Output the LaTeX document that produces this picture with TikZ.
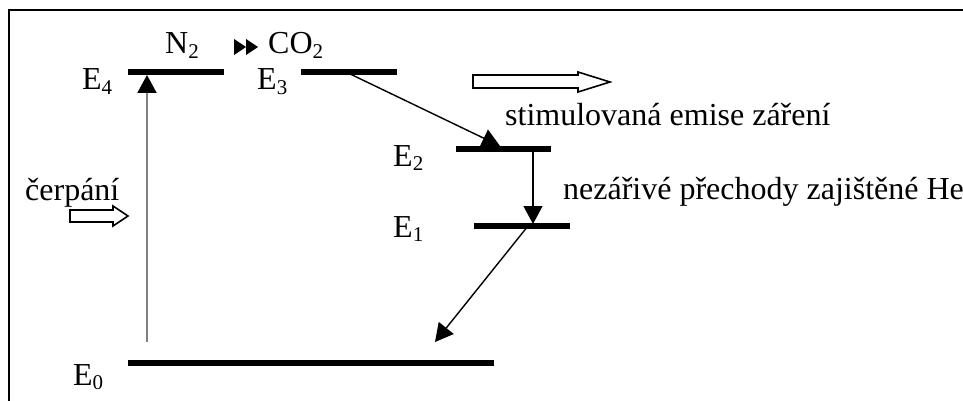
\documentclass[tikz,border=0pt]{standalone}
\usepackage{fontspec}
\setmainfont{Liberation Serif}
\usetikzlibrary{arrows.meta}
% subscript index of an energy level
\newcommand\lvlsub[1]{\raisebox{-0.3ex}{\fontsize{21}{21}\selectfont #1}}

\begin{document}
\begin{tikzpicture}[x=1pt,y=-1pt,
  level/.style={line width=5.5pt},
  trans/.style={line width=1.4pt,-{Triangle[length=18pt,width=19pt]}},
  pump/.style={draw=black!50, line width=2pt,
    -{Triangle[length=18pt,width=19pt,color=black]}},
  lbl/.style={anchor=base west, inner sep=0, font=\fontsize{32}{38}\selectfont},
  hollow/.style={draw=black, line width=1.6pt, fill=white, line join=miter}]
\useasboundingbox (0,0) rectangle (963,401);

% frame
\draw[line width=2.5pt] (9,401) -- (9,10) -- (963,10);

% energy levels
\coordinate (e4l) at (128,72);  \coordinate (e4r) at (224,72);
\coordinate (e3l) at (301,72);  \coordinate (e3r) at (397,72);
\coordinate (e2l) at (456,149); \coordinate (e2r) at (551,149);
\coordinate (e1l) at (474,226); \coordinate (e1r) at (570,226);
\coordinate (e0l) at (128,363); \coordinate (e0r) at (494,363);
\foreach \a/\b in {e4l/e4r,e3l/e3r,e2l/e2r,e1l/e1r,e0l/e0r}
  \draw[level] (\a) -- (\b);

% level labels
\node[lbl] (le4) at (82,90)  {E\lvlsub{4}};
\node[lbl] (le3) at (257,90) {E\lvlsub{3}};
\node[lbl] (le2) at (393,166) {E\lvlsub{2}};
\node[lbl] (le1) at (393,237) {E\lvlsub{1}};
\node[lbl] (le0) at (73,385) {E\lvlsub{0}};

% transitions
\coordinate (p0) at (147,342); \coordinate (p4) at (147,75);
\draw[pump] (p0) -- (p4);
\coordinate (s3) at (346,72);  \coordinate (s2) at (500,146);
\draw[trans] (s3) -- (s2);
\coordinate (n2) at (533,149); \coordinate (n1) at (533,224);
\draw[trans] (n2) -- (n1);
\coordinate (r1) at (528,226); \coordinate (r0) at (435,342);
\draw[trans] (r1) -- (r0);

% N2 -> CO2 energy transfer
\node[lbl] (n2lbl) at (165,54) {N\lvlsub{2}};
\fill (234,39) -- (246,47) -- (234,55) -- cycle;
\fill (246,39) -- (258,47) -- (246,55) -- cycle;
\node[lbl] (co2lbl) at (268,54) {CO\lvlsub{2}};

% emitted radiation
\draw[hollow] (473,75) -- (578,75) -- (578,72) -- (610,82) -- (578,92)
  -- (578,88) -- (473,88) -- cycle;
\node[lbl] (stim) at (505,125) {stimulovaná emise záření};

% relaxation label
\node[lbl] (relax) at (563,199) {nezářivé přechody zajištěné He};

% pumping
\node[lbl] (pumplbl) at (25,200) {čerpání};
\draw[hollow] (70,210) -- (113,210) -- (113,206) -- (128,216) -- (113,226)
  -- (113,222) -- (70,222) -- cycle;
\end{tikzpicture}
\end{document}
